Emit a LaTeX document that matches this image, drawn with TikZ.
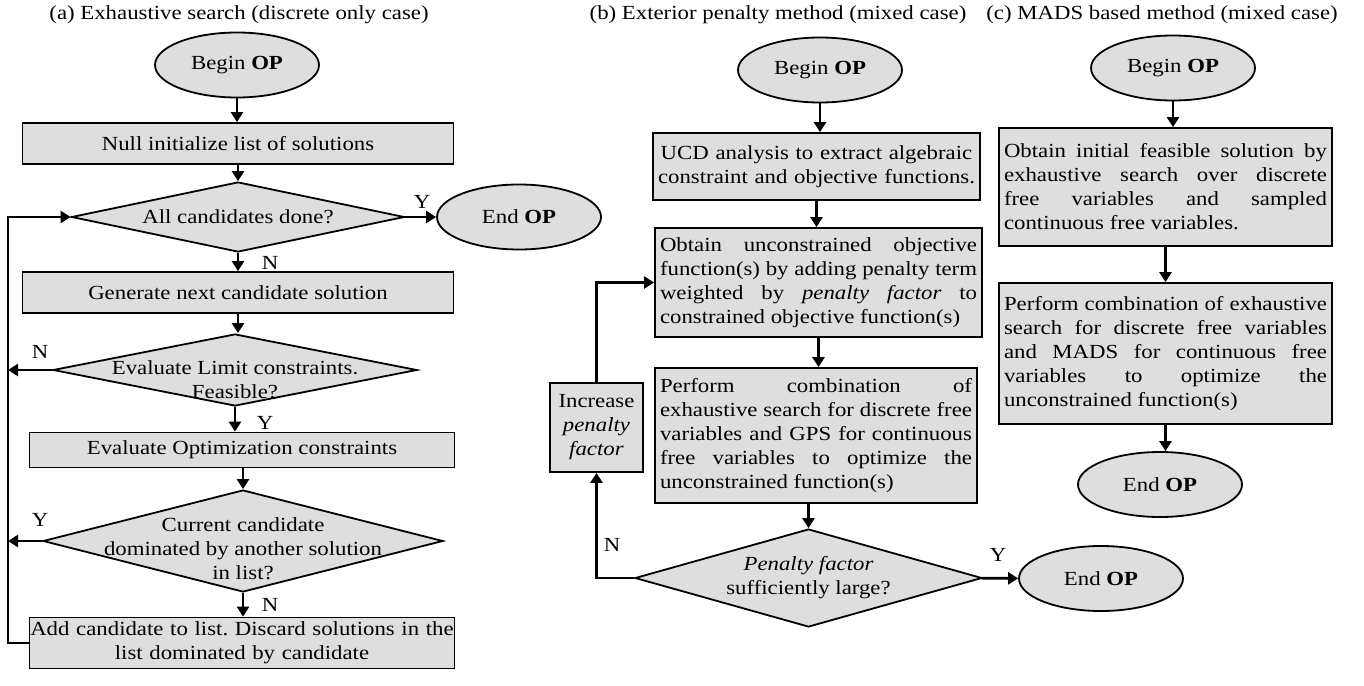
\documentclass[tikz,border=0pt]{standalone}
\usepackage{fontspec}
\setmainfont{Liberation Serif}[FakeStretch=1.14]
\usetikzlibrary{shapes.geometric,arrows.meta}
\definecolor{boxgray}{RGB}{222,222,222}
\tolerance=9999
\hbadness=10000
\frenchspacing

\begin{document}
\begin{tikzpicture}[x=0.5pt,y=-0.5pt]
    \tikzset{proc/.style={rectangle, draw, fill=boxgray, line width=0.9pt,
            inner xsep=2.5pt, inner ysep=0pt},
        decision/.style={diamond, draw, fill=boxgray, line width=0.9pt,
            inner sep=-60pt, align=center},
        terminal/.style={ellipse, draw, fill=boxgray, line width=0.9pt,
            inner sep=0pt, minimum width=82pt, minimum height=32.5pt},
        arr/.style={-{Triangle[length=5pt,width=6pt]}, line width=1.4pt},
        lbl/.style={inner sep=0pt}}
    \useasboundingbox (0,0) rectangle (1364,685);
    \node[lbl] (titlea) at (239,15) {(a) Exhaustive search (discrete only case)};
    \node[terminal] (begina) at (237,65) {Begin \textbf{OP}};
    \node[proc, minimum width=215.5pt, minimum height=20.5pt] (init) at (238,143.5) {Null initialize list of solutions};
    \node[decision, minimum width=166.5pt, minimum height=35pt] (done) at (238,217) {All candidates done?};
    \node[terminal] (enda) at (519,217) {End \textbf{OP}};
    \node[proc, minimum width=215.5pt, minimum height=20.5pt] (gen) at (238,292.5) {Generate next candidate solution};
    \node[decision, minimum width=182pt, minimum height=36pt, text height=29pt] (lim) at (235,370) {Evaluate Limit constraints.\\Feasible?};
    \node[proc, minimum width=212.5pt, minimum height=17.5pt] (opt) at (242,450) {Evaluate Optimization constraints};
    \node[decision, minimum width=200pt, minimum height=51pt, text height=38.5pt] (dom) at (243,541) {Current candidate\\dominated by another solution\\in list?};
    \node[proc, text width=218.5pt, inner xsep=-3pt, align=center, minimum height=25.5pt] (add) at (242,643) {\mbox{Add candidate to list. Discard solutions in the}\\list dominated by candidate};
    \coordinate (rail) at (8,217);
    \node[lbl] (ya) at (422,202) {Y};
    \node[lbl] (na) at (270,263) {N};
    \node[lbl] (nb) at (40,352) {N};
    \node[lbl] (yb) at (265,423) {Y};
    \node[lbl] (yc) at (40,520) {Y};
    \node[lbl] (nc) at (270,605) {N};
    \draw[arr] (begina.south) -- (begina.south |- init.north);
    \draw[arr] (init.south) -- (init.south |- done.north);
    \draw[arr] (done.south) -- (done.south |- gen.north);
    \draw[arr] (gen.south) -- (gen.south |- lim.north);
    \draw[arr] (lim.south) -- (lim.south |- opt.north);
    \draw[arr] (dom.north |- opt.south) -- (dom.north);
    \draw[arr] (dom.south) -- (dom.south |- add.north);
    \draw[arr] (done) -- (enda);
    \draw[arr] (add.west) -| (rail) -- (done.west);
    \draw[arr] (lim.west) -- (lim.west -| rail);
    \draw[arr] (dom.west) -- (dom.west -| rail);

    \node[lbl] (titleb) at (778,15) {(b) Exterior penalty method (mixed case)};
    \node[terminal] (beginb) at (820,70) {Begin \textbf{OP}};
    \node[proc, text width=158.5pt, align=center, minimum height=33.5pt] (ucd) at (816.5,166.5) {UCD analysis to extract algebraic\\constraint and objective functions.};
    \node[proc, text width=158.5pt, align=justify, minimum height=54.5pt] (uncon) at (818.5,282.5) {Obtain unconstrained objective\linebreak function(s) by adding penalty term\linebreak weighted by \textit{penalty factor} to\linebreak constrained objective function(s)};
    \node[proc, text width=156pt, align=justify, minimum height=67.5pt] (gps) at (816,435.5) {Perform combination of\linebreak exhaustive search for discrete free\linebreak variables and GPS for continuous\linebreak free variables to optimize the\linebreak unconstrained function(s)};
    \node[proc, text width=41.5pt, align=center, minimum height=44.5pt] (incr) at (596.5,427.5) {Increase\\\textit{penalty}\\\textit{factor}};
    \node[decision, minimum width=173.5pt, minimum height=49pt] (pen) at (808.5,578) {\textit{Penalty factor}\\sufficiently large?};
    \node[terminal] (endb) at (1101,578.5) {End \textbf{OP}};
    \node[lbl] (nd) at (612,545) {N};
    \node[lbl] (yd) at (998,555) {Y};
    \draw[arr] (beginb.south) -- (beginb.south |- ucd.north);
    \draw[arr] (ucd.south) -- (ucd.south |- uncon.north);
    \draw[arr] (uncon.south) -- (uncon.south |- gps.north);
    \draw[arr] (pen.north |- gps.south) -- (pen.north);
    \draw[arr] (pen) -- (endb);
    \draw[arr] (pen.west) -| (incr.south);
    \draw[arr] (incr.north) |- (uncon.west);

    \node[lbl] (titlec) at (1162,15) {(c) MADS based method (mixed case)};
    \node[terminal] (beginc) at (1173,68) {Begin \textbf{OP}};
    \node[proc, text width=161.5pt, align=justify, minimum height=59pt] (feas) at (1165.5,187) {Obtain initial feasible solution by\linebreak exhaustive search over discrete\linebreak free variables and sampled\linebreak continuous free variables.};
    \node[proc, text width=161.5pt, align=justify, minimum height=70.5pt] (mads) at (1165.5,353.5) {Perform combination of exhaustive\linebreak search for discrete free variables\linebreak and MADS for continuous free\linebreak variables to optimize the\linebreak unconstrained function(s)};
    \node[terminal] (endc) at (1160,484.5) {End \textbf{OP}};
    \draw[arr] (beginc.south) -- (beginc.south |- feas.north);
    \draw[arr] (feas.south) -- (feas.south |- mads.north);
    \draw[arr] (mads.south) -- (mads.south |- endc.north);
\end{tikzpicture}
\end{document}
